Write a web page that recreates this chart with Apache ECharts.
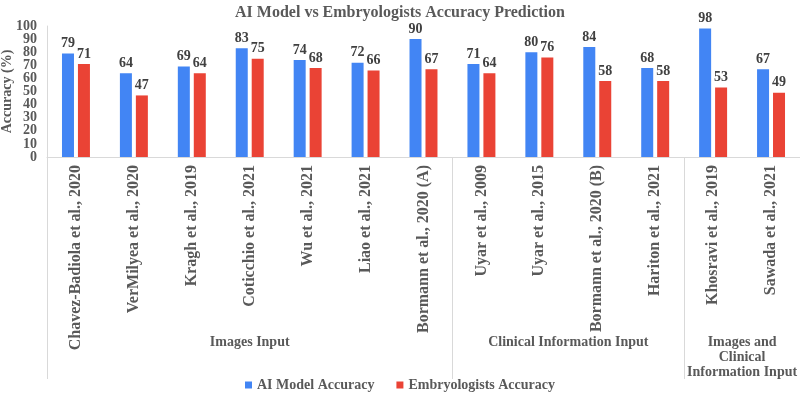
<!DOCTYPE html>
<html>
<head>
<meta charset="utf-8">
<script src="https://cdn.jsdelivr.net/npm/echarts@6/dist/echarts.min.js"></script>
<style>
  html, body { margin: 0; padding: 0; background: #fff; }
  #main { width: 800px; height: 399px; }
</style>
</head>
<body>
<div id="main"></div>
<script>
// studies, in plotted order
var studies = ['Chavez-Badiola et al., 2020', 'VerMilyea et al., 2020', 'Kragh et al., 2019',
    'Coticchio et al., 2021', 'Wu et al., 2021', 'Liao et al., 2021', 'Bormann et al., 2020 (A)',
    'Uyar et al., 2009', 'Uyar et al., 2015', 'Bormann et al., 2020 (B)', 'Hariton et al., 2021',
    'Khosravi et al., 2019', 'Sawada et al., 2021'];
var aiAccuracy = [79, 64, 69, 83, 74, 72, 90, 71, 80, 84, 68, 98, 67];
var embryoAccuracy = [71, 47, 64, 75, 68, 66, 67, 64, 76, 58, 58, 53, 49];
// input groups and how many studies fall in each
var groupNames = ['Images Input', 'Clinical Information Input', 'Images and\nClinical\nInformation Input'];
var groupSizes = [7, 4, 2];
var yMin = 0, yMax = 100, yStep = 10;

var font = 'Liberation Serif';
var gray = '#595959';

// group boundaries (category index where each group starts) and centres
var groupStarts = [], groupCenters = {};
var acc = 0;
groupSizes.forEach(function (n, i) {
    groupStarts.push(acc);
    groupCenters[acc + n / 2] = groupNames[i];
    acc += n;
});

var yLabelStyle = { margin: 10, fontFamily: font, fontSize: 14, fontWeight: 'bold', color: gray };

var dom = document.getElementById('main');
var myChart = echarts.init(dom);
var option = {
    animation: false,
    title: {
        text: 'AI Model vs Embryologists Accuracy Prediction',
        left: 'center',
        top: 0,
        textStyle: { fontFamily: font, fontSize: 16, fontWeight: 'bold', color: gray }
    },
    legend: {
        data: ['AI Model Accuracy', 'Embryologists Accuracy'],
        bottom: 2,
        icon: 'rect',
        itemWidth: 7,
        itemHeight: 7,
        itemGap: 22,
        textStyle: { fontFamily: font, fontSize: 14, fontWeight: 'bold', color: gray }
    },
    grid: { left: 47, right: 0, top: 26, bottom: 242, containLabel: false, outerBoundsMode: 'none' },
    xAxis: [
        {
            type: 'category',
            data: studies,
            axisLine: { lineStyle: { color: '#d9d9d9' } },
            axisTick: {
                show: true,
                length: 222,
                interval: function (index) { return groupStarts.indexOf(index) >= 0; },
                lineStyle: { color: '#d9d9d9' }
            },
            axisLabel: {
                interval: 0,
                rotate: 90,
                margin: 8,
                fontFamily: font, fontSize: 16, fontWeight: 'bold', color: gray
            }
        },
        {
            // only carries the group captions under the study names
            type: 'value',
            position: 'bottom',
            min: 0,
            max: studies.length,
            interval: 0.5,
            axisLine: { show: false },
            axisTick: { show: false },
            splitLine: { show: false },
            axisLabel: {
                margin: 178,
                lineHeight: 15,
                fontFamily: font, fontSize: 14, fontWeight: 'bold', color: gray,
                formatter: function (v) { return groupCenters[v] || ''; }
            }
        }
    ],
    yAxis: [
        {
            type: 'value',
            position: 'left',
            min: yMin,
            max: yMax,
            interval: yStep,
            name: 'Accuracy (%)',
            nameLocation: 'middle',
            nameGap: 33,
            nameMoveOverlap: false,
            nameTextStyle: { fontFamily: font, fontSize: 14, fontWeight: 'bold', color: gray },
            axisLine: { show: true, lineStyle: { color: '#d9d9d9' } },
            axisTick: { show: false },
            splitLine: { show: false },
            axisLabel: Object.assign({ showMinLabel: false, showMaxLabel: false }, yLabelStyle)
        },
        {
            // 0 and 100 labels (kept apart so the packed labels are not thinned)
            type: 'value',
            position: 'left',
            min: yMin,
            max: yMax,
            interval: yMax - yMin,
            axisLine: { show: false },
            axisTick: { show: false },
            splitLine: { show: false },
            axisLabel: yLabelStyle
        }
    ],
    series: [
        {
            name: 'AI Model Accuracy',
            type: 'bar',
            data: aiAccuracy,
            barWidth: 12,
            barGap: '33%',
            itemStyle: { color: '#4285F4' },
            label: {
                show: true, position: 'top', distance: 3,
                fontFamily: font, fontSize: 14, fontWeight: 'bold', color: '#404040'
            }
        },
        {
            name: 'Embryologists Accuracy',
            type: 'bar',
            data: embryoAccuracy,
            barWidth: 12,
            itemStyle: { color: '#EA4335' },
            label: {
                show: true, position: 'top', distance: 3,
                fontFamily: font, fontSize: 14, fontWeight: 'bold', color: '#404040'
            }
        }
    ]
};
myChart.setOption(option, true);
</script>
</body>
</html>
